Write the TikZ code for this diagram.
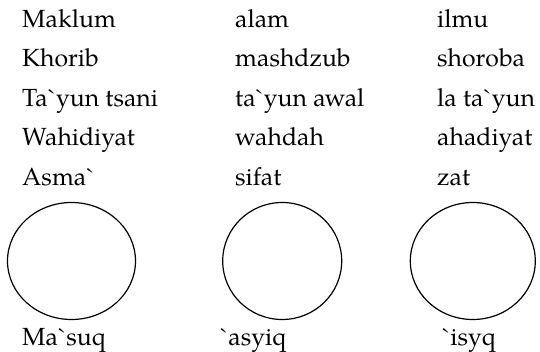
\documentclass[tikz,border=0pt]{standalone}
\usepackage{fontspec}
\setmainfont{TeX Gyre Pagella}[Ligatures=TeXOff]
\newcommand{\gr}{\symbol{96}}
\begin{document}
\begin{tikzpicture}[x=1pt,y=-1pt,
  word/.style={anchor=base west,inner sep=0pt,font=\fontsize{24.8}{28}\selectfont},
  ring/.style={draw=black,line width=1.2pt}]
\useasboundingbox (0,0) rectangle (540,352);
% three columns of terms
\node[word] (a1) at (22,27.5) {Maklum};
\node[word] (b1) at (235,27.5) {alam};
\node[word] (c1) at (437,27.5) {ilmu};
\node[word] (a2) at (22,67) {Khorib};
\node[word] (b2) at (235,67) {mashdzub};
\node[word] (c2) at (437,67) {shoroba};
\node[word] (a3) at (22,106.5) {Ta\gr yun tsani};
\node[word] (b3) at (235,106.5) {ta\gr yun awal};
\node[word] (c3) at (437,106.5) {la ta\gr yun};
\node[word] (a4) at (22,146) {Wahidiyat};
\node[word] (b4) at (235,146) {wahdah};
\node[word] (c4) at (437,146) {ahadiyat};
\node[word] (a5) at (22,185.5) {Asma\gr};
\node[word] (b5) at (235,185.5) {sifat};
\node[word] (c5) at (437,185.5) {zat};
% circles
\draw[ring] (71.5,261) ellipse [x radius=64, y radius=58.5];
\draw[ring] (282.2,261) ellipse [x radius=59.5, y radius=58.5];
\draw[ring] (472.8,261) ellipse [x radius=62.5, y radius=58.5];
% labels under the circles
\node[word] (a6) at (22,345) {Ma\gr suq};
\node[word] (b6) at (220,345) {\gr asyiq};
\node[word] (c6) at (442,345) {\gr isyq};
\end{tikzpicture}
\end{document}
